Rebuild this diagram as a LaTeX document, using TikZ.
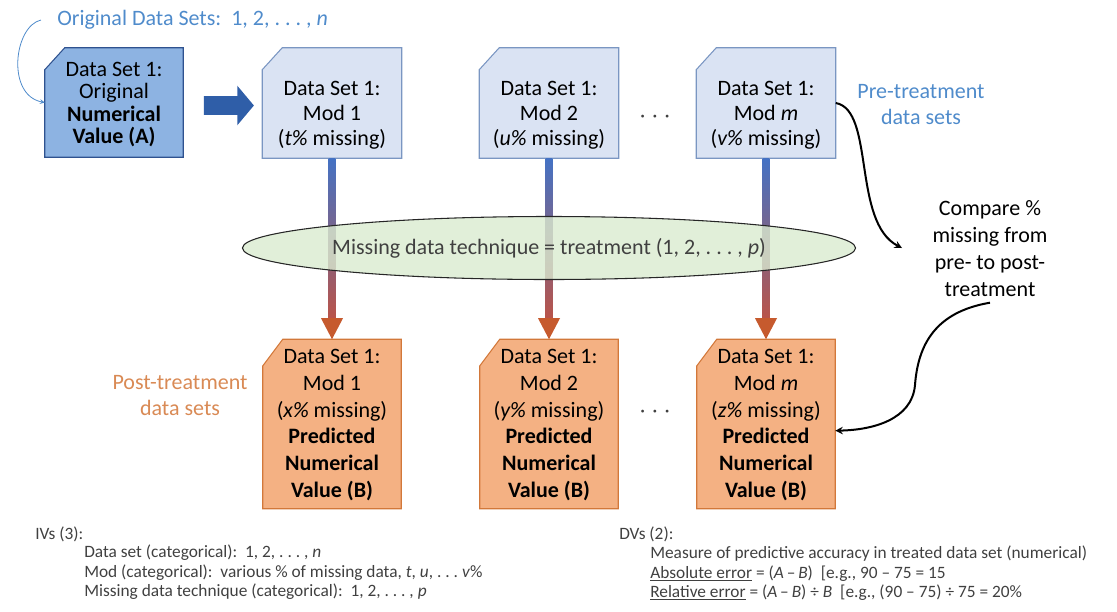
\documentclass[tikz,border=0pt]{standalone}
\usepackage{fontspec}
\setmainfont{Carlito}
\usetikzlibrary{shapes.geometric,shapes.arrows}
\definecolor{origfill}{HTML}{8DB3E2}
\definecolor{origline}{HTML}{2F528F}
\definecolor{modfill}{HTML}{DAE3F3}
\definecolor{modline}{HTML}{7A96C2}
\definecolor{postfill}{HTML}{F4B183}
\definecolor{postline}{HTML}{D2783A}
\definecolor{shaftblue}{HTML}{4472C4}
\definecolor{shaftmid}{HTML}{8C5F8C}
\definecolor{shaftred}{HTML}{B9544A}
\definecolor{headred}{HTML}{C65A2E}
\definecolor{arrowblue}{HTML}{2F5EA8}
\definecolor{techfill}{HTML}{DAEBD0}
\definecolor{labelblue}{HTML}{4F8BCB}
\definecolor{postlabel}{HTML}{D98A55}
\definecolor{darktext}{HTML}{404040}
\tikzset{%
    dsb/.style={inner sep=0pt, minimum width=104.25pt, minimum height=82.5pt},
    origtxt/.style={align=center, inner sep=0pt, font=\fontsize{16.5}{16.9}\selectfont},
    modtxt/.style={align=center, inner sep=0pt, font=\fontsize{16.5}{18.75}\selectfont},
    posttxt/.style={align=center, inner sep=0pt, font=\fontsize{16.5}{20.1}\selectfont},
    tag/.style={align=center, inner sep=0pt, font=\fontsize{16.5}{19.5}\selectfont},
    note/.style={align=left, inner sep=0pt, text=darktext, font=\fontsize{13}{14.3}\selectfont},
    bigarrow/.style={single arrow, fill=arrowblue, minimum height=37.5pt, inner xsep=0pt,
        inner ysep=6.75pt, single arrow head extend=7.9pt, single arrow tip angle=100},
    curvy/.style={line width=1.5pt, -stealth},
}
\newcommand\cutbox[4]{%
  \filldraw[fill=#2, draw=#3, line width=0.8pt] (#1.south west) -- (#1.south east)
    -- (#1.north east) -- ([xshift=15pt]#1.north west) -- ([yshift=-#4]#1.north west) -- cycle;}
\newcommand\gradarrow[2]{%
  \shade[top color=shaftblue, middle color=shaftmid, bottom color=shaftred]
    ([xshift=-2.6pt]#1.south) rectangle ([xshift=2.6pt,yshift=15.75pt]#2.north);
  \fill[headred] ([xshift=-8.25pt,yshift=15.75pt]#2.north)
    -- ([xshift=8.25pt,yshift=15.75pt]#2.north) -- (#2.north) -- cycle;}

\begin{document}
\begin{tikzpicture}[x=0.75pt,y=-0.75pt]
    \useasboundingbox (0,0) rectangle (1117,611);

    % original data set
    \node[tag, anchor=west, text=labelblue] (ods) at (57,20)
        {Original Data Sets:\ \ 1, 2, .\ .\ .\ , \textit{n}};
    \node[dsb, minimum width=103.5pt, minimum height=81.75pt] (orig) at (114,102.5) {};
    \cutbox{orig}{origfill}{origline}{16.5pt}
    \node[origtxt] (origt) at (114,104.5)
        {Data Set 1:\\Original\\\textbf{Numerical}\\\textbf{Value (A)}};
    \draw[labelblue, line width=0.6pt, -stealth] ([xshift=-12pt]ods.west)
        .. controls (14,26) and (6,95) .. (orig.west);
    \node[bigarrow] (fwd) at (225,105.5) {};

    % pre-treatment
    \node[dsb] (m1) at (332,103) {};
    \node[dsb] (m2) at (549,103) {};
    \node[dsb] (mm) at (766,103) {};
    \cutbox{m1}{modfill}{modline}{16.5pt}
    \cutbox{m2}{modfill}{modline}{16.5pt}
    \cutbox{mm}{modfill}{modline}{16.5pt}
    \node[modtxt] (m1t) at (332,115) {Data Set 1:\\Mod 1\\(\textit{t\%} missing)};
    \node[modtxt] (m2t) at (549,115) {Data Set 1:\\Mod 2\\(\textit{u\%} missing)};
    \node[modtxt] (mmt) at (766,115) {Data Set 1:\\Mod \textit{m}\\(\textit{v\%} missing)};
    \node[tag, text=darktext, font=\fontsize{21}{21}\selectfont] (dt1) at (655,117) {$\cdots$};
    \node[tag, text=labelblue] (pre) at (921,105) {Pre-treatment\\data sets};

    % post-treatment
    \node[dsb, minimum width=103.5pt, minimum height=126.75pt] (o1) at (332,424) {};
    \node[dsb, minimum width=103.5pt, minimum height=126.75pt] (o2) at (549,424) {};
    \node[dsb, minimum width=103.5pt, minimum height=126.75pt] (om) at (766,424) {};
    \cutbox{o1}{postfill}{postline}{20pt}
    \cutbox{o2}{postfill}{postline}{20pt}
    \cutbox{om}{postfill}{postline}{20pt}
    \node[posttxt] (o1t) at (332,425) {Data Set 1:\\Mod 1\\(\textit{x\%} missing)\\
        \textbf{Predicted}\\\textbf{Numerical}\\\textbf{Value (B)}};
    \node[posttxt] (o2t) at (549,425) {Data Set 1:\\Mod 2\\(\textit{y\%} missing)\\
        \textbf{Predicted}\\\textbf{Numerical}\\\textbf{Value (B)}};
    \node[posttxt] (omt) at (766,425) {Data Set 1:\\Mod \textit{m}\\(\textit{z\%} missing)\\
        \textbf{Predicted}\\\textbf{Numerical}\\\textbf{Value (B)}};
    \node[tag, text=darktext, font=\fontsize{21}{21}\selectfont] (dt2) at (655,412) {$\cdots$};
    \node[tag, text=postlabel] (post) at (180,396) {Post-treatment\\data sets};

    % treatment
    \gradarrow{m1}{o1}
    \gradarrow{m2}{o2}
    \gradarrow{mm}{om}
    \node[ellipse, draw=black!85, line width=0.8pt, fill=techfill, fill opacity=0.8, text opacity=1,
        text=darktext, minimum width=430.5pt, minimum height=47.25pt, inner sep=0pt,
        font=\fontsize{16.5}{19.5}\selectfont] (tech) at (549,248)
        {Missing data technique = treatment (1, 2, .\ .\ .\ , \textit{p})};

    % comparison
    \node[tag, font=\fontsize{16.5}{20.25}\selectfont, inner sep=4pt] (cmp) at (990,249)
        {Compare \%\\missing from\\pre- to post-\\treatment};
    \coordinate (cmpin) at (902,248);
    \draw[curvy] (mm.east) .. controls (875,110) and (852,222) .. (cmpin);
    \draw[curvy] (cmp.south) .. controls (935,312) and (918,345) .. (915,385)
        .. controls (912,420) and (872,430) .. ([yshift=-5pt]om.east);

    % variables
    \node[note, anchor=west] (ivs) at (35,534) {IVs (3):};
    \node[note, anchor=north west] (ivl) at (84,545) {Data set (categorical):\ \ 1, 2, .\ .\ .\ , \textit{n}\\
        Mod (categorical):\ \ various \% of missing data, \textit{t}, \textit{u}, .\ .\ .\ \textit{v}\%\\
        Missing data technique (categorical):\ \ 1, 2, .\ .\ .\ , \textit{p}};
    \node[note, anchor=west] (dvs) at (619,534) {DVs (2):};
    \node[note, anchor=north west] (dvl) at (650,546)
        {Measure of predictive accuracy in treated data set (numerical)\\
        \underline{Absolute error} = (\textit{A}\,--\,\textit{B})\ \ [e.g., 90 -- 75 = 15\\
        \underline{Relative error} = (\textit{A}\,--\,\textit{B}) ÷ \textit{B}\ \ [e.g., (90 -- 75) ÷ 75 = 20\%};
\end{tikzpicture}
\end{document}
